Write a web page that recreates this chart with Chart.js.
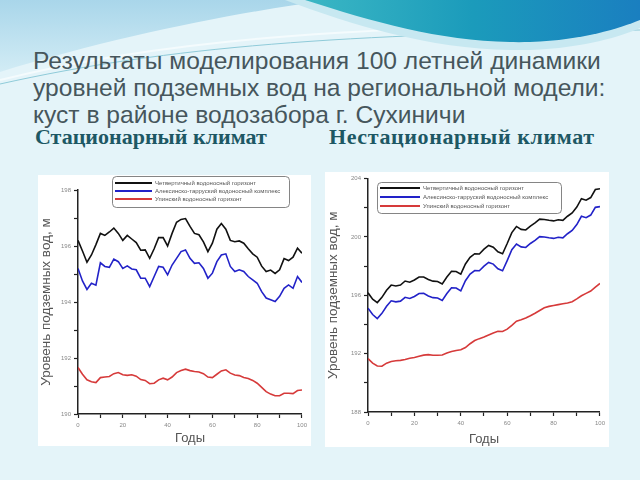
<!DOCTYPE html>
<html>
<head>
<meta charset="utf-8">
<script src="https://cdn.jsdelivr.net/npm/chart.js@4"></script>
<style>
  body { margin: 0; width: 640px; height: 480px; overflow: hidden; background: #e4f4f9; position: relative; font-family: "Liberation Sans", Arial, sans-serif; }
  #deco { position: absolute; left: 0; top: 0; }
  .title { position: absolute; left: 33px; top: 47px; margin: 0; font-size: 24.6px; line-height: 27px; font-weight: normal; color: #46565c; white-space: nowrap; }
  .sub { position: absolute; top: 126px; font-family: "Liberation Serif", serif; font-weight: bold; font-size: 22px; line-height: 22px; color: #1d5864; white-space: nowrap; }
  .panel { position: absolute; background: #fff; }
</style>
</head>
<body>
<svg id="deco" width="640" height="480">
  <defs>
    <linearGradient id="teal" x1="0" y1="0" x2="1" y2="0">
      <stop offset="0" stop-color="#3bb7c4"/>
      <stop offset="0.5" stop-color="#1b9bbb"/>
      <stop offset="1" stop-color="#1a7fc0"/>
    </linearGradient>
    <linearGradient id="pale" x1="0" y1="0" x2="0" y2="1">
      <stop offset="0" stop-color="#a9d6ea"/>
      <stop offset="1" stop-color="#d2ecf5"/>
    </linearGradient>
  </defs>
  <path d="M0,0 L330,0 C240,12 120,35 0,72 Z" fill="url(#pale)"/>
  <path d="M0,80 C160,40 330,28 640,22" fill="none" stroke="#f4fbfd" stroke-width="2"/>
  <path d="M0,84 C170,46 340,34 640,30" fill="none" stroke="#8fcbd9" stroke-width="1"/>
  <path d="M285,0 C360,28 440,52 530,50 C585,48 622,36 640,28 L640,0 Z" fill="#c7e8f1"/>
  <path d="M305,0 C380,24 450,44 530,42 C585,40 620,28 640,20 L640,0 Z" fill="url(#teal)"/>
</svg>

<div class="title">Результаты моделирования 100 летней динамики<br>уровней подземных вод на региональной модели:<br>куст в районе водозабора г. Сухиничи</div>
<div class="sub" style="left:35px">Стационарный климат</div>
<div class="sub" style="left:329px; letter-spacing:0.6px">Нестационарный климат</div>

<div class="panel" style="left:38px; top:175px; width:273px; height:271px;"><canvas id="chartStat" width="273" height="271"></canvas></div>
<div class="panel" style="left:325px; top:172px; width:284px; height:275px;"><canvas id="chartNonstat" width="284" height="275"></canvas></div>

<script>
// years, every 2 years
const years = [0, 2, 4, 6, 8, 10, 12, 14, 16, 18, 20, 22, 24, 26, 28, 30, 32, 34, 36, 38, 40,
  42, 44, 46, 48, 50, 52, 54, 56, 58, 60, 62, 64, 66, 68, 70, 72, 74, 76, 78, 80,
  82, 84, 86, 88, 90, 92, 94, 96, 98, 100];

const seriesNames = [
  'Четвертичный водоносный горизонт',
  'Алексинско-тарруский водоносный комплекс',
  'Упинский водоносный горизонт'
];
const seriesColors = ['#111111', '#2222c8', '#d63a3a'];

// stationary climate, m
const statQuat = [196.2, 195.82, 195.42, 195.68, 196.05, 196.45, 196.38, 196.5, 196.64, 196.45, 196.2,
  196.38, 196.25, 196.12, 195.85, 195.86, 195.56, 195.9, 196.3, 196.3, 196.0,
  196.45, 196.85, 196.95, 196.98, 196.7, 196.45, 196.4, 196.15, 195.8, 196.1,
  196.6, 196.8, 196.6, 196.2, 196.15, 196.18, 196.1, 195.9, 195.72, 195.6,
  195.28, 195.09, 195.14, 195.02, 195.15, 195.55, 195.48, 195.6, 195.92, 195.74];
const statAlek = [195.2, 194.75, 194.45, 194.67, 194.6, 195.4, 195.27, 195.24, 195.53, 195.44, 195.2,
  195.29, 195.18, 195.15, 194.85, 194.85, 194.55, 194.91, 195.27, 195.24, 194.97,
  195.32, 195.56, 195.8, 195.86, 195.56, 195.38, 195.4, 195.2, 194.85, 195.03,
  195.44, 195.68, 195.72, 195.27, 195.09, 195.15, 195.09, 194.91, 194.79, 194.67,
  194.37, 194.14, 194.08, 194.02, 194.2, 194.49, 194.61, 194.49, 194.91, 194.7];
const statUpin = [191.66, 191.42, 191.22, 191.15, 191.12, 191.3, 191.32, 191.34, 191.44, 191.48, 191.4,
  191.38, 191.4, 191.35, 191.23, 191.2, 191.08, 191.1, 191.22, 191.28, 191.22,
  191.32, 191.48, 191.55, 191.6, 191.55, 191.52, 191.5, 191.44, 191.32, 191.3,
  191.42, 191.54, 191.58, 191.46, 191.39, 191.37, 191.3, 191.27, 191.2, 191.1,
  190.95, 190.8, 190.71, 190.65, 190.65, 190.74, 190.74, 190.73, 190.84, 190.86];

// non-stationary climate, m
const nonstatQuat = [196.17, 195.73, 195.5, 195.86, 196.35, 196.7, 196.64, 196.7, 196.98, 196.9, 197.05,
  197.25, 197.25, 197.08, 196.97, 196.95, 196.78, 197.25, 197.65, 197.63, 197.45,
  198.15, 198.6, 198.85, 198.83, 199.16, 199.42, 199.3, 198.98, 198.85, 199.55,
  200.3, 200.72, 200.52, 200.48, 200.74, 200.96, 201.22, 201.2, 201.14, 201.1,
  201.18, 201.14, 201.42, 201.65, 202.05, 202.62, 202.52, 202.7, 203.25, 203.31];
const nonstatAlek = [195.12, 194.68, 194.4, 194.76, 195.25, 195.62, 195.55, 195.6, 195.86, 195.78, 195.92,
  196.12, 196.13, 195.95, 195.84, 195.82, 195.65, 196.12, 196.52, 196.5, 196.3,
  197.0, 197.45, 197.7, 197.68, 198.0, 198.25, 198.14, 197.82, 197.68, 198.38,
  199.12, 199.52, 199.32, 199.28, 199.55, 199.76, 200.02, 200.0, 199.94, 199.9,
  199.98, 199.94, 200.22, 200.45, 200.85, 201.42, 201.32, 201.5, 202.03, 202.08];
const nonstatUpin = [191.66, 191.35, 191.15, 191.14, 191.35, 191.46, 191.51, 191.54, 191.6, 191.68, 191.74,
  191.82, 191.9, 191.93, 191.89, 191.89, 191.91, 192.04, 192.15, 192.22, 192.27,
  192.42, 192.68, 192.9, 193.03, 193.14, 193.28, 193.42, 193.53, 193.52, 193.68,
  193.94, 194.23, 194.33, 194.44, 194.6, 194.77, 194.96, 195.14, 195.24, 195.3,
  195.36, 195.42, 195.47, 195.56, 195.75, 195.97, 196.13, 196.29, 196.56, 196.81];

// labelled y ticks (others are left blank)
const statYLabels = [190, 192, 194, 196, 198];
const nonstatYLabels = [188, 192, 196, 200, 204];
const xLabels = [0, 20, 40, 60, 80, 100];

// legend drawn as a framed box inside the plot
const boxLegend = {
  id: 'boxLegend',
  afterDraw(chart, args, o) {
    const ctx = chart.ctx;
    ctx.save();
    ctx.strokeStyle = '#666';
    ctx.lineWidth = 0.8;
    ctx.beginPath();
    ctx.roundRect(o.x + 0.5, o.y + 0.5, o.w, o.h, 4);
    ctx.stroke();
    ctx.font = '6px "Liberation Sans", Arial';
    ctx.textBaseline = 'middle';
    chart.data.datasets.forEach((ds, i) => {
      const y = o.y + o.row0 + i * o.rowGap;
      ctx.strokeStyle = ds.borderColor;
      ctx.lineWidth = 2;
      ctx.beginPath();
      ctx.moveTo(o.x + 3, y);
      ctx.lineTo(o.x + 3 + o.lineLen, y);
      ctx.stroke();
      ctx.fillStyle = '#555';
      ctx.fillText(ds.label, o.x + o.lineLen + 6, y);
    });
    ctx.restore();
  }
};

function makeDatasets(lists) {
  return lists.map((vals, i) => ({
    label: seriesNames[i],
    data: years.map((yr, k) => ({ x: yr, y: vals[k] })),
    borderColor: seriesColors[i],
    borderWidth: 1.6,
    pointRadius: 0,
    tension: 0
  }));
}

function drawChart(id, lists, yMin, yMax, yLabels, dims) {
  new Chart(document.getElementById(id).getContext('2d'), {
    type: 'line',
    data: { datasets: makeDatasets(lists) },
    plugins: [boxLegend],
    options: {
      responsive: false,
      animation: false,
      devicePixelRatio: 1,
      layout: { padding: { top: dims.top, right: dims.right, left: 0, bottom: 0 } },
      plugins: {
        legend: { display: false },
        tooltip: { enabled: false },
        boxLegend: dims.legend
      },
      scales: {
        x: {
          type: 'linear',
          min: 0,
          max: 100,
          afterFit: s => { s.height = dims.xHeight; },
          border: { color: '#222', width: 1.5 },
          grid: { drawOnChartArea: false, tickLength: 4, tickColor: '#222', tickWidth: 1.2 },
          ticks: {
            stepSize: 10,
            autoSkip: false,
            maxRotation: 0,
            padding: 4,
            color: '#888',
            font: { size: 6, family: '"Liberation Sans", Arial' },
            callback: v => xLabels.includes(v) ? v : ''
          },
          title: {
            display: true,
            text: 'Годы',
            color: '#555',
            padding: { top: 0, bottom: 0 },
            font: { size: 13, family: '"Liberation Sans", Arial' }
          }
        },
        y: {
          min: yMin,
          max: yMax,
          afterFit: s => { s.width = dims.yWidth; },
          border: { color: '#222', width: 1.5 },
          grid: { drawOnChartArea: false, tickLength: 4, tickColor: '#222', tickWidth: 1.2 },
          ticks: {
            stepSize: (yMax - yMin) / 8,
            autoSkip: false,
            padding: 3,
            color: '#888',
            font: { size: 6, family: '"Liberation Sans", Arial' },
            callback: v => yLabels.includes(v) ? v : ''
          },
          title: {
            display: true,
            text: 'Уровень подземных вод, м',
            color: '#555',
            padding: { top: 0, bottom: 1 },
            font: { size: 13.5, family: '"Liberation Sans", Arial' }
          }
        }
      }
    }
  });
}

drawChart('chartStat', [statQuat, statAlek, statUpin], 190, 198, statYLabels, {
  top: 15, right: 7, yWidth: 40, xHeight: 32,
  legend: { x: 74, y: 1, w: 177, h: 31, row0: 7, rowGap: 8, lineLen: 37 }
});
drawChart('chartNonstat', [nonstatQuat, nonstatAlek, nonstatUpin], 188, 204, nonstatYLabels, {
  top: 5, right: 6, yWidth: 43, xHeight: 35,
  legend: { x: 52, y: 10, w: 184, h: 31, row0: 6, rowGap: 9, lineLen: 40 }
});
</script>
</body>
</html>
